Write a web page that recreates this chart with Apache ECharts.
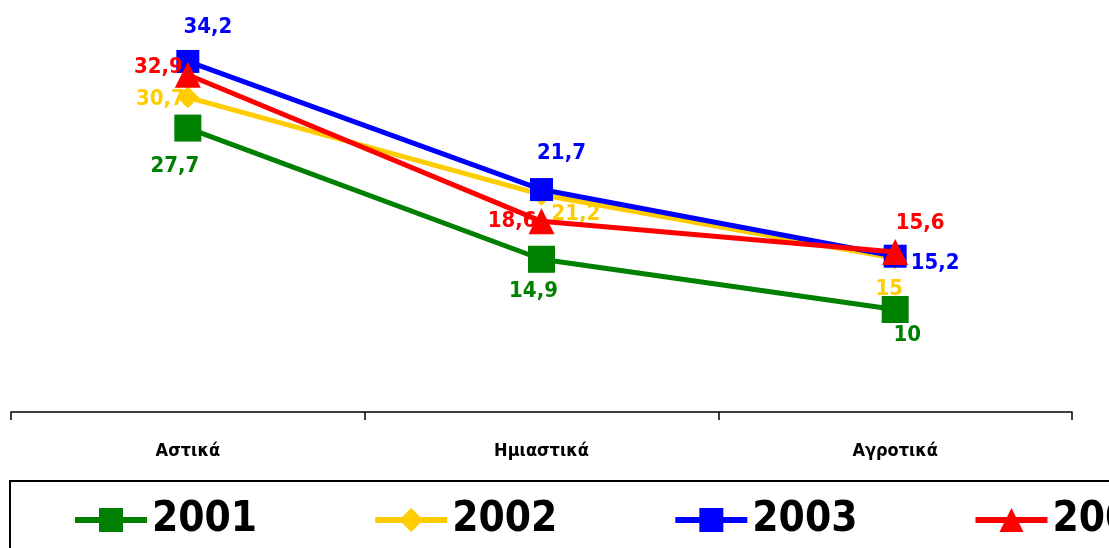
<!DOCTYPE html>
<html><head><meta charset="utf-8">
<script src="https://cdn.jsdelivr.net/npm/echarts@6/dist/echarts.min.js"></script>
<style>html,body{margin:0;padding:0;background:#fff}#c{width:1109px;height:548px}</style>
</head><body><div id="c"></div>
<script>
const categories = ['Αστικά', 'Ημιαστικά', 'Αγροτικά'];
const seriesNames = ['2001', '2002', '2003', '2004'];
const v2001 = [27.7, 14.9, 10];
const v2002 = [30.7, 21.2, 15];
const v2003 = [34.2, 21.7, 15.2];
const v2004 = [32.9, 18.6, 15.6];

const values = [v2001, v2002, v2003, v2004];
const colors = ['#008000', '#FFCC00', '#0000FF', '#FF0000'];
const symbols = ['rect', 'diamond', 'rect', 'triangle'];
const symSizes = [27, 22, 23, 26];
const labelPos = [
  [['bottom', [-13, 8]], ['bottom', [-8, 2]], ['bottom', [12, -5]]],
  [['left', [14, 2]], ['right', [-7, 20]], ['bottom', [-6, 3]]],
  [['top', [20, -6]], ['top', [20, -8]], ['right', [-2, 7]]],
  [['left', [14, -7]], ['left', [14, 0]], ['top', [25, 1]]]
];
const FONT = '"DejaVu Sans Condensed", "Liberation Sans", Arial, sans-serif';

const fmt = v => String(v).replace('.', ',');

const series = seriesNames.map((name, s) => ({
  name,
  type: 'line',
  data: values[s].map((v, i) => ({
    value: v,
    label: { position: labelPos[s][i][0], offset: labelPos[s][i][1] }
  })),
  symbol: symbols[s],
  symbolSize: symSizes[s],
  lineStyle: { color: colors[s], width: 5 },
  itemStyle: { color: colors[s] },
  z: 2 + s,
  label: {
    show: true,
    color: colors[s],
    fontFamily: FONT,
    fontWeight: 'bold',
    fontSize: 22,
    distance: 6,
    formatter: p => fmt(p.value)
  },
  animation: false
}));

const chart = echarts.init(document.getElementById('c'));
chart.setOption({
  backgroundColor: '#fff',
  grid: { left: 11, right: 37, top: 2, bottom: 136 },
  xAxis: {
    type: 'category',
    data: categories,
    boundaryGap: true,
    axisLine: { lineStyle: { color: '#000', width: 1.5 } },
    axisTick: { show: true, length: 8, lineStyle: { color: '#000', width: 1.5 } },
    axisLabel: { color: '#000', fontFamily: FONT, fontWeight: 'bold', fontSize: 18, margin: 30 }
  },
  yAxis: { type: 'value', min: 0, max: 40, show: false, splitLine: { show: false } },
  legend: {
    data: seriesNames,
    left: 10, top: 481,
    width: 1300,
    borderColor: '#000', borderWidth: 2,
    padding: [18, 10, 20, 62],
    itemWidth: 72, itemHeight: 30,
    itemGap: 115,
    lineStyle: { width: 6 },
    textStyle: { color: '#000', fontFamily: FONT, fontWeight: 'bold', fontSize: 42 }
  },
  series
});
</script></body></html>
